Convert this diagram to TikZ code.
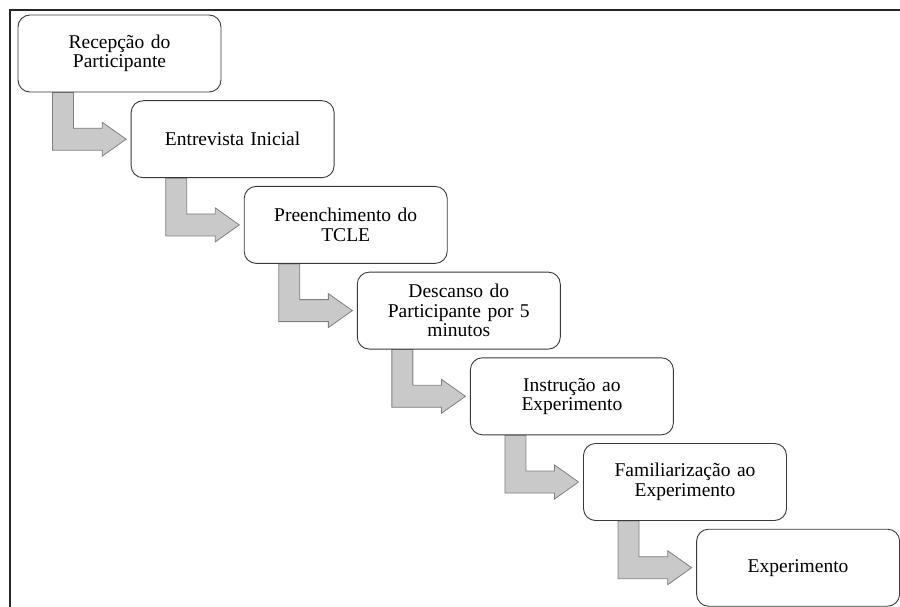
\documentclass[tikz,border=0pt]{standalone}
\usepackage{fontspec}
\setmainfont{Liberation Serif}
\usetikzlibrary{calc,backgrounds}
\definecolor{stepgray}{HTML}{C9C9C9}
\definecolor{stepline}{HTML}{808080}
\definecolor{boxline}{HTML}{3A3A3A}
\begin{document}
\begin{tikzpicture}[x=1pt,y=-1pt,
  stepbox/.style={draw=boxline,line width=0.9pt,fill=white,rounded corners=12pt,
    minimum width=203pt,minimum height=77pt,inner sep=0pt,
    align=center,text width=190pt,
    font=\fontsize{19.5pt}{19.5pt}\selectfont},
  bentarrow/.style={fill=stepgray,draw=stepline,line width=0.8pt,line join=miter}]
\useasboundingbox (0,0) rectangle (900,607);
% outer frame (top and left edges)
\draw[line width=2pt,black!85] (10,607) -- (10,10) -- (900,10);
% process steps
\node[stepbox] (b1) at (119.5,53.5) {Recepção do\\Participante};
\node[stepbox] (b2) at (232.6,139.2) {Entrevista Inicial};
\node[stepbox] (b3) at (345.7,224.9) {Preenchimento do\\TCLE};
\node[stepbox] (b4) at (458.8,310.6) {Descanso do\\Participante por 5\\minutos};
\node[stepbox] (b5) at (571.9,396.3) {Instrução ao\\Experimento};
\node[stepbox] (b6) at (685.0,482.0) {Familiarização ao\\Experimento};
\node[stepbox] (b7) at (798.1,567.7) {Experimento};
% bent arrows from each step to the next
\begin{scope}[on background layer]
\foreach \i [evaluate=\i as \j using int(\i+1)] in {1,...,6}{
  \filldraw[bentarrow] let \p1=(b\i.south west), \p2=(b\j.west) in
    (\x1+35pt,\y1) -- (\x1+56pt,\y1) -- (\x1+56pt,\y2+11pt)
    -- (\x2-28.5pt,\y2+11pt) -- (\x2-28.5pt,\y2+17pt) -- (\x2-4.5pt,\y2)
    -- (\x2-28.5pt,\y2-17pt) -- (\x2-28.5pt,\y2-11pt) -- (\x1+35pt,\y2-11pt) -- cycle;
}
\end{scope}
\end{tikzpicture}
\end{document}
